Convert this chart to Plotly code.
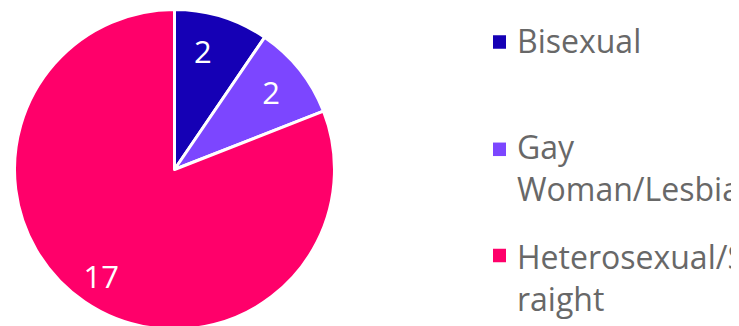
import plotly.graph_objects as go

categories = ["Bisexual", "Gay Woman/Lesbian", "Heterosexual/Straight"]
values = [2, 2, 17]
legend_labels = ["Bisexual", "Gay<br>Woman/Lesbian", "Heterosexual/St<br>raight"]
colors = ["#1500B5", "#7C46FF", "#FF006A"]

W, H = 739, 330
NB = "\u00a0"

fig = go.Figure(go.Pie(
    labels=categories, values=values, sort=False, direction="clockwise", rotation=0,
    marker=dict(colors=colors, line=dict(color="white", width=3)),
    texttemplate=["%{value}" + NB * 2, "%{value}", NB + "<br>" + NB + "<br>%{value}" + NB * 7],
    textposition="inside", insidetextorientation="horizontal",
    textfont=dict(color="white", size=31, family="Open Sans"),
    domain=dict(x=[6.5 / W, 326.5 / W], y=[1 - 321.5 / H, 1 - 1.5 / H]),
    showlegend=False, hoverinfo="label+value",
))

# legend drawn manually (paper pixel positions)
sq_centers = [34, 141.3, 247.5]
text_centers = [32.8, 159.9, 269.9]
shapes = []
annotations = []
for i, t in enumerate(legend_labels):
    cy = sq_centers[i]
    shapes.append(dict(type="rect", xref="paper", yref="paper",
                       x0=485 / W, x1=498 / W, y0=1 - (cy + 6.75) / H, y1=1 - (cy - 6.75) / H,
                       fillcolor=colors[i], line=dict(width=0)))
    annotations.append(dict(text=t, xref="paper", yref="paper", x=507 / W, y=1 - text_centers[i] / H,
                            xanchor="left", yanchor="middle", align="left", showarrow=False,
                            font=dict(size=32, color="#686868", family="Open Sans")))

fig.update_layout(width=W, height=H, margin=dict(l=0, r=0, t=0, b=0),
                  paper_bgcolor="white", plot_bgcolor="white",
                  shapes=shapes, annotations=annotations)
fig.write_html("out.html")
